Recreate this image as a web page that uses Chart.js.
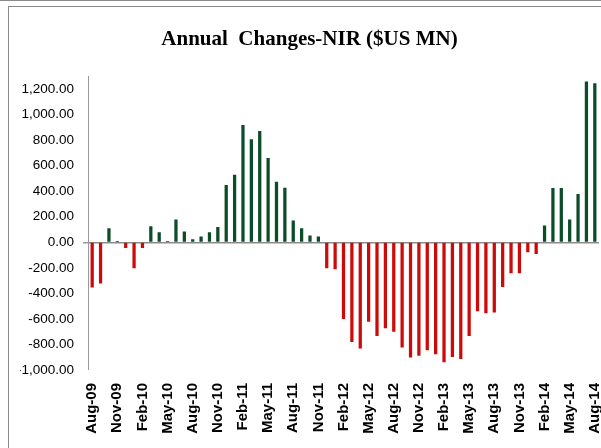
<!DOCTYPE html>
<html>
<head>
<meta charset="utf-8">
<script src="https://cdn.jsdelivr.net/npm/chart.js@4/dist/chart.umd.min.js"></script>
<style>
  html, body { margin: 0; padding: 0; background: #fff; }
  #wrap { position: relative; width: 601px; height: 448px; overflow: hidden; }
  #chart { position: absolute; left: 0; top: 0; }
  .edge1 { position: absolute; left: 0; top: 0; width: 601px; height: 1px; border-top: 1px solid #8a8a8a; }
  .edge2 { position: absolute; left: 8px; top: 6px; width: 600px; height: 450px; border-left: 1px solid #8a8a8a; border-top: 1px solid #8a8a8a; }
</style>
</head>
<body>
<div id="wrap">
  <canvas id="chart" width="601" height="448"></canvas>
  <div class="edge1"></div>
  <div class="edge2"></div>
</div>
<script>
// ================= Data =================
const months = [
  "Aug-09","Sep-09","Oct-09","Nov-09","Dec-09","Jan-10","Feb-10","Mar-10","Apr-10","May-10",
  "Jun-10","Jul-10","Aug-10","Sep-10","Oct-10","Nov-10","Dec-10","Jan-11","Feb-11","Mar-11",
  "Apr-11","May-11","Jun-11","Jul-11","Aug-11","Sep-11","Oct-11","Nov-11","Dec-11","Jan-12",
  "Feb-12","Mar-12","Apr-12","May-12","Jun-12","Jul-12","Aug-12","Sep-12","Oct-12","Nov-12",
  "Dec-12","Jan-13","Feb-13","Mar-13","Apr-13","May-13","Jun-13","Jul-13","Aug-13","Sep-13",
  "Oct-13","Nov-13","Dec-13","Jan-14","Feb-14","Mar-14","Apr-14","May-14","Jun-14","Jul-14",
  "Aug-14"];

// annual change in NIR, $US MN
const nirChange = [
  -352,-321, 107,   8, -42,-201, -42, 123,  76,   8,
   175,  81,  21,  42,  76, 117, 446, 525, 916, 804,
   869, 658, 472, 425, 167, 107,  50,  42,-201,-209,
  -598,-778,-830,-619,-731,-671,-697,-822,-900,-885,
  -843,-874,-937,-895,-911,-731,-538,-553,-548,-347,
  -240,-240, -76, -89, 128, 423, 423, 175, 376,1255,
  1242];

// y axis: labelled ticks run -1000..1200, the plot goes a bit higher
const yTicks = [-1000,-800,-600,-400,-200,0,200,400,600,800,1000,1200];
const yMin = -1000;
const yMax = 1300;
const labelEvery = 3; // only every 3rd month is labelled

const upColor = '#0a4d28';
const downColor = '#cc0a0a';
const axisGray = '#9a9a9a';

// ================= Chart =================
const ctx = document.getElementById('chart').getContext('2d');
const chart = new Chart(ctx, {
  type: 'bar',
  data: {
    labels: months,
    datasets: [{
      label: 'NIR change',
      data: nirChange,
      backgroundColor: c => (c.raw >= 0 ? upColor : downColor),
      barThickness: 2.6,
      borderWidth: 0
    }]
  },
  options: {
    responsive: false,
    animation: false,
    layout: { padding: { left: 20, right: 2, top: 0, bottom: 0 } },
    plugins: {
      legend: { display: false },
      tooltip: { enabled: false },
      title: {
        display: true,
        text: 'Annual  Changes-NIR ($US MN)',
        color: '#000',
        font: { family: "'Liberation Serif', 'Times New Roman', serif", size: 21, weight: 'bold' },
        padding: { top: 27, bottom: 24 }
      }
    },
    scales: {
      x: {
        offset: true,
        border: { display: false },
        grid: { display: false, drawTicks: false },
        ticks: {
          autoSkip: false,
          maxRotation: 90,
          minRotation: 90,
          padding: 13,
          color: '#000',
          font: { family: "'Liberation Sans', Arial, sans-serif", size: 15, weight: 'bold' },
          callback: function (val, i) { return i % labelEvery === 0 ? this.getLabelForValue(val) : ''; }
        },
        afterFit: s => {
          s.height = 78;
          // rotated labels may hang past the edge, like in the original
          s.paddingLeft = 0;
          s.paddingRight = 0;
        }
      },
      y: {
        min: yMin,
        max: yMax,
        border: { display: true, color: axisGray, width: 1 },
        grid: {
          drawOnChartArea: true,
          color: c => (c.tick && c.tick.value === 0 ? '#8c8c8c' : 'rgba(0,0,0,0)'),
          lineWidth: c => (c.tick && c.tick.value === 0 ? 1.5 : 0),
          tickColor: axisGray,
          tickLength: 5
        },
        ticks: {
          padding: 9,
          color: '#000',
          font: { family: "'Liberation Sans', Arial, sans-serif", size: 13.5 },
          callback: v => v.toLocaleString('en-US', { minimumFractionDigits: 2, maximumFractionDigits: 2 })
        },
        afterBuildTicks: s => { s.ticks = yTicks.map(v => ({ value: v })); },
        afterFit: s => { s.width = 68; }
      }
    }
  }
});
</script>
</body>
</html>
